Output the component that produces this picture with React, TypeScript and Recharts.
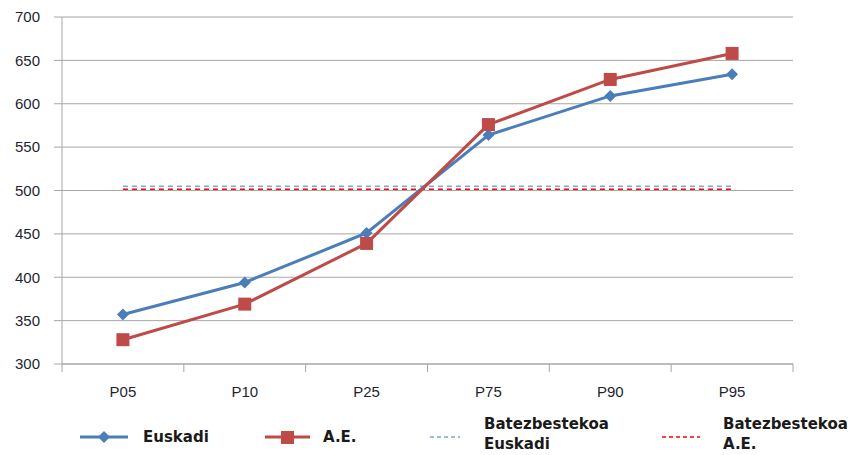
import React from "react"
import { LineChart, Line, XAxis, YAxis, CartesianGrid } from "recharts"

const categories = ["P05", "P10", "P25", "P75", "P90", "P95"]
const euskadi = [357, 394, 451, 564, 609, 634]
const ae = [328, 369, 439, 576, 628, 658]
const meanEuskadi = [505, 505, 505, 505, 505, 505]
const meanAE = [501.5, 501.5, 501.5, 501.5, 501.5, 501.5]
const yTicks = [300, 350, 400, 450, 500, 550, 600, 650, 700]

const BLUE = "#4A7EBB"
const RED = "#BE4B48"
const GRID = "#A6A6A6"
const TICK_FONT = "'Liberation Sans', Arial, sans-serif"
const FONT = "'DejaVu Sans', Verdana, sans-serif"

const data = categories.map((c, i) => ({
  cat: c,
  euskadi: euskadi[i],
  ae: ae[i],
  meanEuskadi: meanEuskadi[i],
  meanAE: meanAE[i],
}))

const Diamond = (props: any) => {
  const { cx, cy } = props
  if (cx == null || cy == null) return null
  const r = 6
  return (
    <path
      d={`M${cx},${cy - r} L${cx + r},${cy} L${cx},${cy + r} L${cx - r},${cy} Z`}
      fill={BLUE}
    />
  )
}

const Square = (props: any) => {
  const { cx, cy } = props
  if (cx == null || cy == null) return null
  const s = 6.5
  return <rect x={cx - s} y={cy - s} width={s * 2} height={s * 2} fill={RED} />
}

const XTick = (props: any) => {
  const { x, y, payload, index, width } = props
  const band = width / categories.length
  const top = y - 8
  return (
    <g>
      <line x1={x - band / 2} y1={top} x2={x - band / 2} y2={top + 8} stroke={GRID} />
      {index === categories.length - 1 && (
        <line x1={x + band / 2} y1={top} x2={x + band / 2} y2={top + 8} stroke={GRID} />
      )}
      <text x={x} y={y} dy={25} textAnchor="middle" fill="#1F1F2F" fontSize={15} fontFamily={TICK_FONT}>
        {payload.value}
      </text>
    </g>
  )
}

const legendText: React.CSSProperties = {
  position: "absolute",
  fontFamily: FONT,
  fontWeight: "bold",
  fontSize: 15,
  color: "#1a1a1a",
  lineHeight: "20px",
  whiteSpace: "nowrap",
}

export default function App() {
  return (
    <div style={{ position: "absolute", left: 0, top: 0, width: 854, height: 455, background: "#fff", overflow: "hidden" }}>
      <LineChart width={854} height={455} data={data} margin={{ top: 17, right: 61, left: 12, bottom: 61 }}>
        <CartesianGrid horizontal vertical={false} stroke={GRID} />
        <XAxis
          dataKey="cat"
          scale="band"
          stroke={GRID}
          tickLine={false}
          tick={<XTick />}
          interval={0}
          height={30}
        />
        <YAxis
          domain={[300, 700]}
          ticks={yTicks}
          width={50}
          stroke={GRID}
          tickSize={8}
          tickMargin={14}
          tick={{ fill: "#1F1F2F", fontSize: 15, fontFamily: TICK_FONT }}
        />
        <Line
          dataKey="meanEuskadi"
          stroke="#7FA6D6"
          strokeWidth={1.5}
          strokeDasharray="5 4"
          dot={false}
          isAnimationActive={false}
        />
        <Line
          dataKey="meanAE"
          stroke="#FF0000"
          strokeWidth={1.5}
          strokeDasharray="5 4"
          dot={false}
          isAnimationActive={false}
        />
        <Line dataKey="euskadi" stroke={BLUE} strokeWidth={3} dot={<Diamond />} isAnimationActive={false} />
        <Line dataKey="ae" stroke={RED} strokeWidth={3} dot={<Square />} isAnimationActive={false} />
      </LineChart>

      <svg style={{ position: "absolute", left: 0, top: 420 }} width={854} height={35}>
        <line x1={80} y1={17} x2={128} y2={17} stroke={BLUE} strokeWidth={3} />
        <path d="M104,11 L110,17 L104,23 L98,17 Z" fill={BLUE} />
        <line x1={265} y1={17} x2={310} y2={17} stroke={RED} strokeWidth={3} />
        <rect x={281} y={11} width={13} height={13} fill={RED} />
        <line x1={430} y1={17} x2={460} y2={17} stroke="#7FA6D6" strokeWidth={1.5} strokeDasharray="4 3" />
        <line x1={662} y1={17} x2={700} y2={17} stroke="#FF0000" strokeWidth={1.5} strokeDasharray="4 3" />
      </svg>
      <div style={{ ...legendText, left: 143, top: 427 }}>Euskadi</div>
      <div style={{ ...legendText, left: 323, top: 427 }}>A.E.</div>
      <div style={{ ...legendText, left: 484, top: 414 }}>
        Batezbestekoa
        <br />
        Euskadi
      </div>
      <div style={{ ...legendText, left: 723, top: 414 }}>
        Batezbestekoa
        <br />
        A.E.
      </div>
    </div>
  )
}
